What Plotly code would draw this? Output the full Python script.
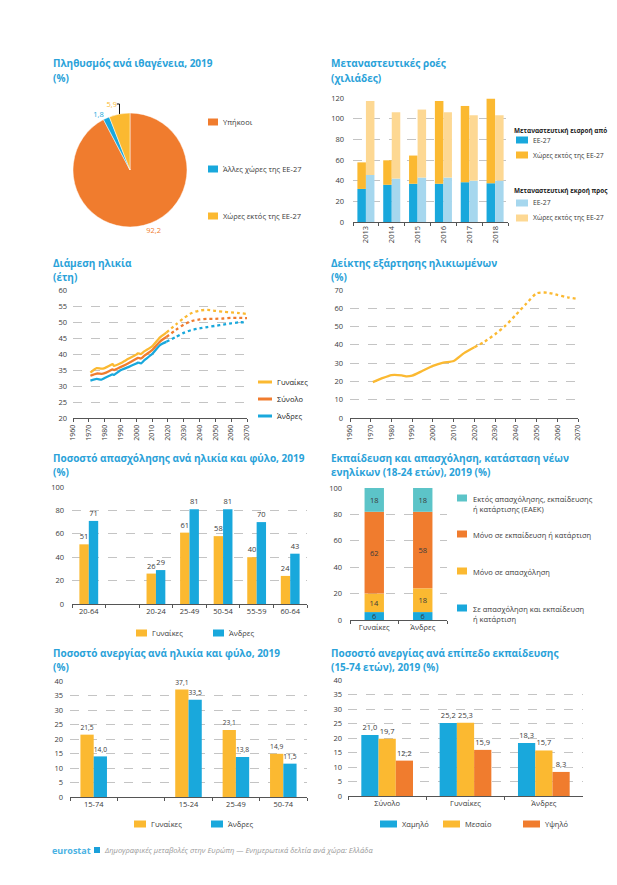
import plotly.graph_objects as go

# The page body has an 8px default margin; the figure is sized to fit the 617x885 window.
OFF = 8
W, H = 617 - OFF, 885 - OFF
def fx(p): return (p - OFF) / W
def fy(p): return 1 - (p - OFF) / H

FONT = "Open Sans"
BLUE = "#19A8DC"
ORANGE = "#F07C2E"
YELLOW = "#FBB931"
LBLUE = "#A6D7EE"
LYELLOW = "#FDD893"
TEAL = "#5CC4C8"
TITLE = "#2AA2D9"
GRID = "#C4C4C4"
TXT = "#3A3A3A"
AXL = "#555555"

# ---------------- data ----------------
pie_labels = ["Υπήκοοι", "Άλλες χώρες της ΕΕ-27", "Χώρες εκτός της ΕΕ-27"]
pie_values = [92.2, 1.8, 5.9]

mig_years = ["2013", "2014", "2015", "2016", "2017", "2018"]
in_eu = [32.0, 36.0, 37.0, 37.0, 38.5, 37.5]
in_noneu = [25.7, 23.7, 27.3, 80.1, 73.8, 81.8]
out_eu = [45.5, 42.0, 43.0, 43.0, 40.0, 40.0]
out_noneu = [71.6, 64.2, 65.8, 63.2, 63.3, 63.3]

age_obs_years = [1971, 1975, 1978, 1980, 1983, 1985, 1986, 1990, 1995, 2000, 2001, 2003, 2005, 2010, 2015, 2019]
age_women_obs = [34.2, 35.6, 35.4, 35.6, 36.3, 36.8, 36.3, 37.1, 38.5, 39.8, 40.2, 40.0, 40.8, 42.4, 45.2, 46.7]
age_total_obs = [33.2, 33.9, 33.8, 34.0, 34.7, 35.2, 35.0, 35.9, 37.1, 38.5, 38.8, 38.6, 39.4, 41.2, 43.9, 45.3]
age_men_obs = [31.7, 32.2, 32.0, 32.5, 33.2, 33.6, 33.5, 34.9, 35.9, 37.0, 37.3, 37.1, 38.0, 40.0, 42.8, 43.8]
age_proj_years = [2019, 2025, 2030, 2035, 2040, 2045, 2050, 2055, 2060, 2065, 2070]
age_women_proj = [46.7, 49.2, 51.2, 52.8, 53.6, 53.8, 53.5, 53.2, 53.0, 52.8, 52.5]
age_total_proj = [45.3, 47.5, 49.2, 50.3, 50.8, 51.0, 51.0, 51.1, 51.3, 51.3, 51.2]
age_men_proj = [43.8, 45.3, 46.6, 47.5, 48.0, 48.4, 48.8, 49.2, 49.6, 49.9, 49.9]

dep_obs_years = [1971, 1975, 1980, 1985, 1987, 1990, 1995, 2000, 2005, 2010, 2015, 2020]
dep_obs = [19.6, 21.5, 23.5, 23.3, 22.8, 23.2, 25.8, 28.5, 30.3, 31.2, 35.5, 38.7]
dep_proj_years = [2020, 2025, 2030, 2035, 2040, 2045, 2050, 2055, 2060, 2065, 2070]
dep_proj = [38.7, 41.8, 45.8, 50.5, 56.4, 62.5, 68.2, 68.6, 67.3, 66.0, 65.1]

emp_cats = ["20-64", " ", "20-24", "25-49", "50-54", "55-59", "60-64"]
emp_women = [51, None, 26, 61, 58, 40, 24]
emp_men = [71, None, 29, 81, 81, 70, 43]

neet_cats = ["Γυναίκες", "Άνδρες"]
neet_names = ["Σε απασχόληση και εκπαίδευση<br>ή κατάρτιση", "Μόνο σε απασχόληση",
              "Μόνο σε εκπαίδευση ή κατάρτιση", "Εκτός απασχόλησης, εκπαίδευσης<br>ή κατάρτισης (ΕΑΕΚ)"]
neet_both = [6, 6]
neet_emp = [14, 18]
neet_edu = [62, 58]
neet_neet = [18, 18]

unemp_cats = ["15-74", " ", "15-24", "25-49", "50-74"]
unemp_women = [21.5, None, 37.1, 23.1, 14.9]
unemp_men = [14.0, None, 33.5, 13.8, 11.5]

edu_cats = ["Σύνολο", "Γυναίκες", "Άνδρες"]
edu_low = [21.0, 25.2, 18.3]
edu_mid = [19.7, 25.3, 15.7]
edu_high = [12.2, 15.9, 8.3]

# ---------------- figure ----------------
fig = go.Figure()

# Pie
fig.add_trace(go.Pie(
    values=pie_values, labels=pie_labels, sort=False, direction="clockwise",
    marker=dict(colors=[ORANGE, BLUE, YELLOW], line=dict(color="white", width=0.5)),
    textposition="outside", texttemplate="%{value:.1f}",
    outsidetextfont=dict(color=[ORANGE, BLUE, YELLOW], size=7.5, family=FONT),
    domain=dict(x=[fx(73), fx(187)], y=[fy(227), fy(113)]),
    showlegend=False, hoverinfo="skip", automargin=False))

# Migration flows (xaxis / yaxis)
bw = 0.33
fig.add_trace(go.Bar(x=mig_years, y=in_eu, marker_color=BLUE, width=bw, offset=-bw,
                     xaxis="x", yaxis="y", showlegend=False))
fig.add_trace(go.Bar(x=mig_years, y=in_noneu, base=in_eu, marker_color=YELLOW, width=bw, offset=-bw,
                     xaxis="x", yaxis="y", showlegend=False))
fig.add_trace(go.Bar(x=mig_years, y=out_eu, marker_color=LBLUE, width=bw, offset=0,
                     xaxis="x", yaxis="y", showlegend=False))
fig.add_trace(go.Bar(x=mig_years, y=out_noneu, base=out_eu, marker_color=LYELLOW, width=bw, offset=0,
                     xaxis="x", yaxis="y", showlegend=False))

# Median age (x2/y2)
for yrs, vals, col, dash in [
    (age_obs_years, age_women_obs, YELLOW, "solid"), (age_proj_years, age_women_proj, YELLOW, "dot"),
    (age_obs_years, age_total_obs, ORANGE, "solid"), (age_proj_years, age_total_proj, ORANGE, "dot"),
    (age_obs_years, age_men_obs, BLUE, "solid"), (age_proj_years, age_men_proj, BLUE, "dot")]:
    fig.add_trace(go.Scatter(x=yrs, y=vals, mode="lines", line=dict(color=col, width=2.3, dash=dash, shape="spline", smoothing=0.6),
                             xaxis="x2", yaxis="y2", showlegend=False))

# Dependency ratio (x3/y3)
fig.add_trace(go.Scatter(x=dep_obs_years, y=dep_obs, mode="lines", line=dict(color=YELLOW, width=2.3, shape="spline", smoothing=0.6),
                         xaxis="x3", yaxis="y3", showlegend=False))
fig.add_trace(go.Scatter(x=dep_proj_years, y=dep_proj, mode="lines", line=dict(color=YELLOW, width=2.3, dash="dot", shape="spline", smoothing=0.6),
                         xaxis="x3", yaxis="y3", showlegend=False))

TF = dict(family=FONT, size=7.5, color=TXT)

# Employment (x4/y4)
bw = 0.28
fig.add_trace(go.Bar(x=emp_cats, y=emp_women, marker_color=YELLOW, width=bw, offset=-bw,
                     texttemplate="%{y:.0f}", textposition="outside", textfont=TF, cliponaxis=False,
                     xaxis="x4", yaxis="y4", showlegend=False))
fig.add_trace(go.Bar(x=emp_cats, y=emp_men, marker_color=BLUE, width=bw, offset=0,
                     texttemplate="%{y:.0f}", textposition="outside", textfont=TF, cliponaxis=False,
                     xaxis="x4", yaxis="y4", showlegend=False))

# NEET stacked (x5/y5)
base = [0, 0]
for vals, col in [(neet_both, BLUE), (neet_emp, YELLOW), (neet_edu, ORANGE), (neet_neet, TEAL)]:
    fig.add_trace(go.Bar(x=neet_cats, y=vals, base=list(base), marker_color=col, width=0.4, offset=-0.2,
                         texttemplate="%{y:.0f}", textposition="inside", insidetextanchor="middle",
                         textangle=0, constraintext="none", textfont=TF,
                         xaxis="x5", yaxis="y5", showlegend=False))
    base = [b + v for b, v in zip(base, vals)]

# Unemployment by age (x6/y6)
bw = 0.28
fig.add_trace(go.Bar(x=unemp_cats, y=unemp_women, marker_color=YELLOW, width=bw, offset=-bw,
                     texttemplate="%{y:.1f}", textposition="outside", textfont=TF, cliponaxis=False,
                     xaxis="x6", yaxis="y6", showlegend=False))
fig.add_trace(go.Bar(x=unemp_cats, y=unemp_men, marker_color=BLUE, width=bw, offset=0,
                     texttemplate="%{y:.1f}", textposition="outside", textfont=TF, cliponaxis=False,
                     xaxis="x6", yaxis="y6", showlegend=False))

# Unemployment by education (x7/y7)
bw = 0.22
for i, (vals, col) in enumerate([(edu_low, BLUE), (edu_mid, YELLOW), (edu_high, ORANGE)]):
    fig.add_trace(go.Bar(x=edu_cats, y=vals, marker_color=col, width=bw, offset=-1.5 * bw + i * bw,
                         texttemplate="%{y:.1f}", textposition="outside", textfont=TF, cliponaxis=False,
                         xaxis="x7", yaxis="y7", showlegend=False))

# ---------------- axes ----------------
def yax(n, top, bot, rng, dtick, standoff=6):
    return dict(domain=[fy(bot), fy(top)], range=rng, dtick=dtick, anchor=f"x{n}" if n > 1 else "x",
                showgrid=True, gridcolor=GRID, griddash="dash", gridwidth=0.8, zeroline=False,
                showline=False, ticks="", automargin=False, ticklabelstandoff=standoff,
                tickfont=dict(family=FONT, size=7.5, color=TXT), fixedrange=True)

def xcat(n, left, right, cats, angle=0):
    return dict(domain=[fx(left), fx(right)], anchor=f"y{n}" if n > 1 else "y", type="category",
                categoryorder="array", categoryarray=cats, range=[-0.5, len(cats) - 0.5],
                showline=True, linecolor=AXL, linewidth=1, ticks="outside", tickson="boundaries",
                ticklen=3, tickcolor=AXL, showgrid=False, tickangle=angle, automargin=False,
                tickfont=dict(family=FONT, size=7.5, color=TXT))

def xnum(n, left, right):
    return dict(domain=[fx(left), fx(right)], anchor=f"y{n}", range=[1960, 2070], dtick=10,
                tick0=1960, showline=True, linecolor=AXL, linewidth=1, ticks="outside", ticklen=3,
                tickcolor=AXL, showgrid=False, zeroline=False, tickangle=-90, automargin=False,
                tickfont=dict(family=FONT, size=7, color=TXT))

layout = dict(
    template="none",
    width=W, height=H, margin=dict(l=0, r=0, t=0, b=0, pad=0, autoexpand=False),
    paper_bgcolor="white", plot_bgcolor="white",
    showlegend=False, separators=", ", font=dict(family=FONT, color=TXT),
    barmode="overlay",
    xaxis=xcat(1, 353, 508, mig_years, angle=-90), yaxis=yax(1, 98, 222, [0, 120], 20, 8),
    xaxis2=xnum(2, 73, 247), yaxis2=yax(2, 290, 418, [20, 60], 5, 5),
    xaxis3=xnum(3, 350, 578), yaxis3=yax(3, 290, 418, [0, 70], 10, 6),
    xaxis4=xcat(4, 72, 307, emp_cats), yaxis4=yax(4, 487, 604, [0, 100], 20, 7),
    xaxis5=xcat(5, 350, 447, neet_cats), yaxis5=yax(5, 488, 620, [0, 100], 20, 7),
    xaxis6=xcat(6, 70, 307, unemp_cats), yaxis6=yax(6, 681, 797, [0, 40], 5, 6),
    xaxis7=xcat(7, 348, 583, edu_cats), yaxis7=yax(7, 680, 796, [0, 40], 5, 5),
)
fig.update_layout(**layout)

# ---------------- titles ----------------
def title(x, y, txt):
    fig.add_annotation(x=fx(x), y=fy(y), xref="paper", yref="paper", text=f"<b>{txt}</b>",
                       showarrow=False, xanchor="left", yanchor="middle", borderpad=0,
                       font=dict(family=FONT, size=10, color=TITLE))

title(52, 63, "Πληθυσμός ανά ιθαγένεια, 2019"); title(52, 78, "(%)")
title(330, 63, "Μεταναστευτικές ροές"); title(330, 78, "(χιλιάδες)")
title(52, 263, "Διάμεση ηλικία"); title(52, 277, "(έτη)")
title(330, 263, "Δείκτης εξάρτησης ηλικιωμένων"); title(330, 277, "(%)")
title(52, 458, "Ποσοστό απασχόλησης ανά ηλικία και φύλο, 2019"); title(52, 472, "(%)")
title(330, 458, "Εκπαίδευση και απασχόληση, κατάσταση νέων"); title(330, 472, "ενηλίκων (18-24 ετών), 2019 (%)")
title(52, 653, "Ποσοστό ανεργίας ανά ηλικία και φύλο, 2019"); title(52, 667, "(%)")
title(330, 653, "Ποσοστό ανεργίας ανά επίπεδο εκπαίδευσης"); title(330, 667, "(15-74 ετών), 2019 (%)")

# ---------------- legends ----------------
def leg_rect(x, y, col, txt, w=10, h=7, size=7.5):
    fig.add_shape(type="rect", xref="paper", yref="paper", x0=fx(x), x1=fx(x + w),
                  y0=fy(y + h / 2), y1=fy(y - h / 2), fillcolor=col, line=dict(width=0))
    fig.add_annotation(x=fx(x + w + 4), y=fy(y), xref="paper", yref="paper", borderpad=0,
                       text=txt, showarrow=False, xanchor="left", yanchor="middle", align="left",
                       font=dict(family=FONT, size=size, color=TXT))

def leg_text(x, y, txt, bold=False, size=7.5):
    fig.add_annotation(x=fx(x), y=fy(y), xref="paper", yref="paper", borderpad=0,
                       text=f"<b>{txt}</b>" if bold else txt, showarrow=False, xanchor="left",
                       yanchor="middle", font=dict(family=FONT, size=size, color="#222"))

# pie legend
for yy, col, lab in zip([122, 169, 216], [ORANGE, BLUE, YELLOW], pie_labels):
    leg_rect(208, yy, col, lab, w=10, h=7)

# migration legend
leg_text(513, 130, "Μεταναστευτική εισροή από", bold=True, size=6.4)
leg_rect(516, 140, BLUE, "ΕΕ-27", w=12, h=7, size=6.8)
leg_rect(516, 155, YELLOW, "Χώρες εκτός της ΕΕ-27", w=12, h=7, size=6.8)
leg_text(513, 190, "Μεταναστευτική εκροή προς", bold=True, size=6.4)
leg_rect(516, 203, LBLUE, "ΕΕ-27", w=12, h=7, size=6.8)
leg_rect(516, 218, LYELLOW, "Χώρες εκτός της ΕΕ-27", w=12, h=7, size=6.8)

# median age legend
for yy, col, lab in zip([382, 399, 416], [YELLOW, ORANGE, BLUE], ["Γυναίκες", "Σύνολο", "Άνδρες"]):
    fig.add_shape(type="line", xref="paper", yref="paper", x0=fx(258), x1=fx(272), y0=fy(yy), y1=fy(yy),
                  line=dict(color=col, width=3))
    leg_text(276, yy, lab)

# employment legend
leg_rect(136, 633, YELLOW, "Γυναίκες", w=11, h=7)
leg_rect(213, 633, BLUE, "Άνδρες", w=11, h=7)

# NEET legend
for yy, col, lab in zip([498, 534, 571, 608], [TEAL, ORANGE, YELLOW, BLUE],
                        [neet_names[3], neet_names[2], neet_names[1], neet_names[0]]):
    fig.add_shape(type="rect", xref="paper", yref="paper", x0=fx(457), x1=fx(467),
                  y0=fy(yy + 3.5), y1=fy(yy - 3.5), fillcolor=col, line=dict(width=0))
    fig.add_annotation(x=fx(472), y=fy(yy - 5), xref="paper", yref="paper", text=lab, showarrow=False,
                       xanchor="left", yanchor="top", align="left", borderpad=0,
                       font=dict(family=FONT, size=7.5, color=TXT))

# unemployment by age legend
leg_rect(134, 824, YELLOW, "Γυναίκες", w=12, h=7)
leg_rect(211, 824, BLUE, "Άνδρες", w=12, h=7)

# unemployment by education legend
leg_rect(380, 824, BLUE, "Χαμηλό", w=17, h=7)
leg_rect(443, 824, YELLOW, "Μεσαίο", w=17, h=7)
leg_rect(523, 824, ORANGE, "Υψηλό", w=17, h=7)

# footer
fig.add_annotation(x=fx(51), y=fy(850), xref="paper", yref="paper", text="<b>eurostat</b>",
                   showarrow=False, xanchor="left", yanchor="middle", borderpad=0,
                   font=dict(family=FONT, size=9, color="#4AB2E3"))
fig.add_shape(type="rect", xref="paper", yref="paper", x0=fx(94), x1=fx(100), y0=fy(853), y1=fy(847),
              fillcolor="#1AA0DA", line=dict(width=0))
fig.add_annotation(x=fx(103), y=fy(850), xref="paper", yref="paper", borderpad=0,
                   text="<i>Δημογραφικές μεταβολές στην Ευρώπη — Ενημερωτικά δελτία ανά χώρα: Ελλάδα</i>",
                   showarrow=False, xanchor="left", yanchor="middle",
                   font=dict(family=FONT, size=7.5, color="#9A9A9A"))

fig.write_html("out.html")
